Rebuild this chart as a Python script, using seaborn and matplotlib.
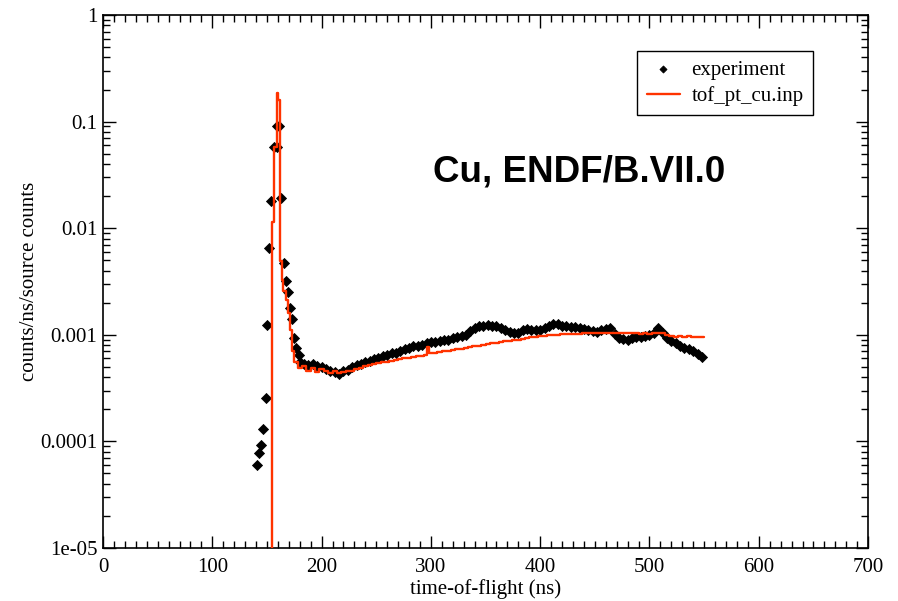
import numpy as np
import pandas as pd
import seaborn as sns
import matplotlib.pyplot as plt
from matplotlib.ticker import MultipleLocator, LogLocator, NullFormatter, FixedLocator, FixedFormatter

sns.set_theme(style="ticks")
plt.rcParams['font.family'] = ['Liberation Serif', 'DejaVu Serif']
plt.rcParams['text.color'] = 'black'
plt.rcParams['axes.labelcolor'] = 'black'

# experiment: time-of-flight (ns) and counts/ns/source counts
exp_tof = [140.9, 142.4, 144.6, 146.7, 149.1, 150.3, 152, 153.7, 156.5, 159, 159.5, 161, 162.9,
           165.6, 167, 169.3, 171.4, 172.9, 175, 176.9, 179,
           180, 184, 188, 192, 196, 200, 204, 208, 212, 216, 220, 224, 228, 232, 236,
           240, 244, 248, 252, 256, 260, 264, 268, 272, 276, 280, 284, 288, 292, 296,
           300, 304, 308, 312, 316, 320, 324, 328, 332, 336, 340, 344, 348, 352, 356,
           360, 364, 368, 372, 376, 380, 384, 388, 392, 396, 400, 404, 408, 412, 416,
           420, 424, 428, 432, 436, 440, 444, 448, 452, 456, 460, 464, 468, 472, 476,
           480, 484, 488, 492, 496, 500, 504, 508, 512, 516, 520, 524, 528, 532, 536,
           540, 544, 548]
exp_counts = [6.0e-5, 7.8e-5, 9.3e-5, 1.31e-4, 2.55e-4, 1.23e-3, 6.5e-3, 0.018, 0.058, 0.058, 0.091, 0.091, 0.019,
              4.7e-3, 3.2e-3, 2.5e-3, 1.8e-3, 1.4e-3, 9.4e-4, 7.6e-4, 6.5e-4,
              5.6e-4, 5.3e-4, 5.2e-4, 5.3e-4, 5.1e-4, 5.0e-4, 4.8e-4, 4.6e-4, 4.5e-4, 4.3e-4,
              4.6e-4, 4.7e-4, 5.0e-4, 5.2e-4, 5.3e-4, 5.6e-4, 5.7e-4, 5.9e-4, 6.1e-4, 6.3e-4,
              6.5e-4, 6.7e-4, 6.8e-4, 7.0e-4, 7.3e-4, 7.5e-4, 7.8e-4, 7.9e-4, 8.1e-4, 8.3e-4,
              8.6e-4, 8.5e-4, 8.8e-4, 8.9e-4, 9.0e-4, 9.3e-4, 9.5e-4, 9.8e-4, 1.0e-3, 1.08e-3,
              1.15e-3, 1.2e-3, 1.22e-3, 1.23e-3, 1.22e-3, 1.2e-3, 1.16e-3, 1.1e-3, 1.06e-3, 1.03e-3,
              1.05e-3, 1.1e-3, 1.13e-3, 1.12e-3, 1.1e-3, 1.12e-3, 1.16e-3, 1.22e-3, 1.27e-3, 1.26e-3,
              1.22e-3, 1.2e-3, 1.18e-3, 1.19e-3, 1.17e-3, 1.14e-3, 1.12e-3, 1.08e-3, 1.06e-3, 1.1e-3,
              1.14e-3, 1.16e-3, 1.02e-3, 9.4e-4, 9.1e-4, 9.0e-4, 9.3e-4, 9.5e-4, 9.6e-4, 9.8e-4,
              1.0e-3, 1.04e-3, 1.15e-3, 1.05e-3, 9.3e-4, 8.8e-4, 8.3e-4, 7.8e-4, 7.5e-4, 7.3e-4,
              7.0e-4, 6.6e-4, 6.2e-4]

# simulation tof_pt_cu.inp (histogram, step style)
sim_tof = [150, 155, 156.5, 158.8, 160.3, 161.5, 162.3, 163.7, 165, 167, 169, 171, 173, 175, 178,
           182, 186, 190, 194, 198, 202, 206, 210, 214, 218, 222, 226, 230, 234, 238,
           242, 246, 250, 254, 258, 262, 266, 270, 274, 278, 282, 286, 290, 294, 296.5,
           298, 302, 306, 310, 314, 318, 322, 326, 330, 334, 338, 342, 346, 350, 354,
           358, 362, 366, 370, 374, 378, 382, 386, 390, 394, 398, 402, 406, 410, 414,
           418, 422, 426, 430, 434, 438, 442, 446, 450, 454, 458, 462, 466, 470, 474,
           478, 482, 486, 490, 494, 498, 502, 506, 510, 514, 518, 522, 526, 530, 534,
           538, 542, 546, 550]
sim_counts = [1e-8, 0.0115, 0.058, 0.184, 0.16, 0.045, 0.0049, 0.0033, 0.0026, 0.0021, 0.0016, 0.0011, 7e-4, 5.5e-4, 4.9e-4,
              5.1e-4, 4.6e-4, 4.9e-4, 4.5e-4, 4.8e-4, 4.6e-4, 4.4e-4, 4.6e-4, 4.4e-4, 4.5e-4, 4.6e-4, 4.6e-4, 4.8e-4, 4.9e-4, 5.1e-4,
              5.2e-4, 5.3e-4, 5.4e-4, 5.5e-4, 5.6e-4, 5.7e-4, 5.8e-4, 5.9e-4, 6.0e-4, 6.1e-4, 6.2e-4, 6.3e-4, 6.35e-4, 6.4e-4, 7.7e-4,
              6.7e-4, 6.8e-4, 6.9e-4, 7.0e-4, 7.1e-4, 7.2e-4, 7.3e-4, 7.4e-4, 7.6e-4, 7.7e-4, 7.8e-4, 7.9e-4, 8.0e-4, 8.2e-4, 8.3e-4,
              8.4e-4, 8.6e-4, 8.7e-4, 8.8e-4, 8.9e-4, 9.0e-4, 9.2e-4, 9.3e-4, 9.5e-4, 9.6e-4, 9.7e-4, 9.8e-4, 9.9e-4, 1.0e-3, 1.0e-3,
              1.01e-3, 1.01e-3, 1.02e-3, 1.02e-3, 1.02e-3, 1.03e-3, 1.03e-3, 1.03e-3, 1.04e-3, 1.03e-3, 1.04e-3, 1.04e-3, 1.03e-3, 1.04e-3, 1.03e-3,
              1.04e-3, 1.03e-3, 1.03e-3, 1.02e-3, 1.03e-3, 1.02e-3, 1.03e-3, 1.04e-3, 1.03e-3, 1.0e-3, 9.8e-4, 9.6e-4, 9.8e-4, 9.6e-4, 9.7e-4,
              9.5e-4, 9.6e-4, 9.5e-4, 9.6e-4]

exp_df = pd.DataFrame({"tof": exp_tof, "counts": exp_counts})
sim_df = pd.DataFrame({"tof": sim_tof, "counts": sim_counts})

fig = plt.figure(figsize=(8.98, 6.01), dpi=100)
ax = fig.add_axes([0.1147, 0.0882, 0.852, 0.8868])

sns.lineplot(data=sim_df, x="tof", y="counts", ax=ax, color="#ff3300", lw=1.7,
             drawstyle="steps-post", estimator=None, sort=False, label="tof_pt_cu.inp", zorder=3)
sns.scatterplot(data=exp_df, x="tof", y="counts", ax=ax, marker="D", s=26, color="black",
                edgecolor="black", linewidth=0.6, label="experiment", zorder=2)

ax.set_yscale("log")
ax.set_xlim(0, 700)
ax.set_ylim(1e-5, 1)
ax.xaxis.set_major_locator(MultipleLocator(100))
ax.xaxis.set_minor_locator(MultipleLocator(10))
ax.yaxis.set_major_locator(FixedLocator([1e-5, 1e-4, 1e-3, 1e-2, 1e-1, 1]))
ax.yaxis.set_major_formatter(FixedFormatter(["1e-05", "0.0001", "0.001", "0.01", "0.1", "1"]))
ax.yaxis.set_minor_locator(LogLocator(base=10, subs=np.arange(2, 10), numticks=20))
ax.yaxis.set_minor_formatter(NullFormatter())

ax.tick_params(which="both", direction="in", top=True, right=True, colors="black",
               labelsize=15, width=1)
ax.tick_params(which="major", length=9)
ax.tick_params(which="minor", length=5)
ax.tick_params(axis="x", which="major", pad=7)
ax.tick_params(axis="y", which="major", pad=4)
for sp in ax.spines.values():
    sp.set_color("black")
    sp.set_linewidth(1.2)

ax.set_xlabel("time-of-flight (ns)", fontsize=15, labelpad=2)
ax.set_ylabel("counts/ns/source counts", fontsize=15, labelpad=1)

ax.text(0.622, 0.706, "Cu, ENDF/B.VII.0", transform=ax.transAxes, ha="center", va="center",
        fontsize=26.5, fontweight="bold", color="black", family=["Liberation Sans", "DejaVu Sans"])

handles, labels = ax.get_legend_handles_labels()
order = [labels.index("experiment"), labels.index("tof_pt_cu.inp")]
leg = ax.legend([handles[i] for i in order], [labels[i] for i in order],
                loc="upper right", bbox_to_anchor=(0.928, 0.9325), fontsize=15,
                frameon=True, fancybox=False, edgecolor="black", framealpha=1,
                borderpad=0.45, labelspacing=0.3, handlelength=1.6, handletextpad=0.55,
                borderaxespad=0, markerscale=0.7)
leg.get_frame().set_linewidth(1.0)

fig.savefig("out.png", dpi=100)
